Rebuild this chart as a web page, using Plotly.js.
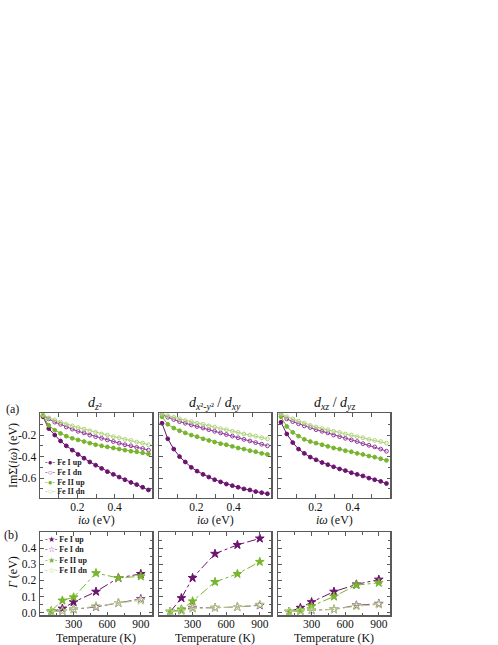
<!DOCTYPE html>
<html>
<head>
<meta charset="utf-8">
<script src="https://cdn.plot.ly/plotly-3.0.1.min.js"></script>
<style>
	body { margin: 0; background: #fff; }
	#chart { width: 498px; height: 645px; }
</style>
</head>
<body>
<div id="chart"></div>
<script>
// Matsubara frequencies (eV)
var iw = [0.016, 0.047, 0.079, 0.110, 0.141, 0.173, 0.204, 0.236, 0.267, 0.298, 0.330, 0.361, 0.393, 0.424, 0.455, 0.487, 0.518, 0.550, 0.581];

// Im Sigma(iw), d_z2
var dz2FeIup = [-0.03, -0.14, -0.20, -0.255, -0.30, -0.34, -0.38, -0.415, -0.45, -0.48, -0.51, -0.54, -0.565, -0.59, -0.615, -0.64, -0.66, -0.685, -0.71];
var dz2FeIdn = [-0.02, -0.05, -0.08, -0.10, -0.125, -0.145, -0.165, -0.18, -0.20, -0.215, -0.23, -0.245, -0.26, -0.275, -0.29, -0.30, -0.315, -0.325, -0.34];
var dz2FeIIup = [-0.02, -0.11, -0.155, -0.185, -0.21, -0.23, -0.245, -0.26, -0.275, -0.29, -0.30, -0.31, -0.32, -0.33, -0.34, -0.35, -0.355, -0.365, -0.375];
var dz2FeIIdn = [-0.01, -0.04, -0.06, -0.08, -0.10, -0.115, -0.13, -0.145, -0.16, -0.175, -0.19, -0.20, -0.215, -0.225, -0.24, -0.25, -0.265, -0.275, -0.29];

// Im Sigma(iw), d_x2-y2 / d_xy
var dxyFeIup = [-0.09, -0.235, -0.33, -0.40, -0.45, -0.50, -0.535, -0.565, -0.59, -0.615, -0.635, -0.655, -0.67, -0.685, -0.70, -0.71, -0.725, -0.735, -0.745];
var dxyFeIdn = [-0.01, -0.035, -0.055, -0.075, -0.09, -0.105, -0.12, -0.135, -0.15, -0.165, -0.18, -0.195, -0.21, -0.225, -0.24, -0.255, -0.27, -0.285, -0.30];
var dxyFeIIup = [-0.03, -0.10, -0.135, -0.16, -0.18, -0.20, -0.215, -0.235, -0.25, -0.265, -0.28, -0.29, -0.305, -0.32, -0.33, -0.345, -0.355, -0.37, -0.38];
var dxyFeIIdn = [-0.005, -0.02, -0.035, -0.05, -0.065, -0.075, -0.09, -0.10, -0.115, -0.125, -0.14, -0.15, -0.165, -0.175, -0.19, -0.20, -0.21, -0.225, -0.235];

// Im Sigma(iw), d_xz / d_yz
var dxzFeIup = [-0.08, -0.19, -0.27, -0.33, -0.37, -0.405, -0.43, -0.455, -0.475, -0.495, -0.515, -0.53, -0.55, -0.565, -0.58, -0.60, -0.615, -0.63, -0.65];
var dxzFeIdn = [-0.01, -0.05, -0.075, -0.095, -0.115, -0.13, -0.15, -0.165, -0.18, -0.20, -0.215, -0.23, -0.245, -0.26, -0.28, -0.295, -0.31, -0.33, -0.35];
var dxzFeIIup = [-0.03, -0.12, -0.175, -0.21, -0.24, -0.26, -0.275, -0.29, -0.305, -0.32, -0.33, -0.345, -0.355, -0.37, -0.38, -0.395, -0.405, -0.42, -0.435];
var dxzFeIIdn = [-0.005, -0.03, -0.05, -0.07, -0.09, -0.11, -0.125, -0.14, -0.15, -0.165, -0.175, -0.19, -0.20, -0.215, -0.225, -0.24, -0.25, -0.26, -0.275];

// scattering rate Gamma (eV) vs temperature (K)
var temps = [100, 200, 300, 500, 700, 900];
var gDz2FeIup = [0.005, 0.025, 0.065, 0.13, 0.215, 0.24];
var gDz2FeIdn = [0.005, 0.01, 0.02, 0.035, 0.06, 0.085];
var gDz2FeIIup = [0.01, 0.075, 0.095, 0.245, 0.215, 0.225];
var gDz2FeIIdn = [0.005, 0.01, 0.02, 0.04, 0.06, 0.075];

var gDxyFeIup = [0.005, 0.09, 0.215, 0.365, 0.42, 0.46];
var gDxyFeIdn = [0.005, 0.015, 0.03, 0.03, 0.035, 0.045];
var gDxyFeIIup = [0.005, 0.02, 0.07, 0.19, 0.24, 0.315];
var gDxyFeIIdn = [0.005, 0.01, 0.025, 0.03, 0.035, 0.05];

var gDxzFeIup = [0.005, 0.03, 0.065, 0.13, 0.175, 0.205];
var gDxzFeIdn = [0.005, 0.01, 0.015, 0.02, 0.045, 0.055];
var gDxzFeIIup = [0.005, 0.015, 0.04, 0.10, 0.17, 0.185];
var gDxzFeIIdn = [0.005, 0.01, 0.015, 0.02, 0.04, 0.05];

var seriesNames = ['Fe I up', 'Fe I dn', 'Fe II up', 'Fe II dn'];

var colors = ['#6b136e', '#93399c', '#78b42c', '#afd57a'];
var filled = [true, false, true, false];
var W = 498, H = 645;

function sigmaTrace(y, k, xa, ya) {
	return {
		x: iw, y: y, xaxis: xa, yaxis: ya,
		type: 'scatter', mode: 'lines+markers', name: seriesNames[k],
		showlegend: false,
		line: {color: colors[k], width: 1},
		marker: {
			symbol: filled[k] ? 'circle' : 'circle-open',
			size: 3.8, color: colors[k], line: {color: colors[k], width: 1}
		}
	};
}

function gammaTrace(y, k, xa, ya) {
	return {
		x: temps, y: y, xaxis: xa, yaxis: ya,
		type: 'scatter', mode: 'lines+markers', name: seriesNames[k],
		showlegend: false,
		line: {color: colors[k], width: 1, dash: 'dashdot'},
		marker: {
			symbol: filled[k] ? 'star' : 'star-open',
			size: 6.5, color: colors[k], line: {color: colors[k], width: 1}
		}
	};
}

var data = [];
[[dz2FeIup, dz2FeIdn, dz2FeIIup, dz2FeIIdn],
 [dxyFeIup, dxyFeIdn, dxyFeIIup, dxyFeIIdn],
 [dxzFeIup, dxzFeIdn, dxzFeIIup, dxzFeIIdn]].forEach(function(set, p) {
	var s = p === 0 ? '' : String(p + 1);
	set.forEach(function(y, k) {
		data.push(sigmaTrace(y, k, 'x' + s, 'y' + s));
	});
});
[[gDz2FeIup, gDz2FeIdn, gDz2FeIIup, gDz2FeIIdn],
 [gDxyFeIup, gDxyFeIdn, gDxyFeIIup, gDxyFeIIdn],
 [gDxzFeIup, gDxzFeIdn, gDxzFeIIup, gDxzFeIIdn]].forEach(function(set, p) {
	var s = String(p + 4);
	set.forEach(function(y, k) {
		data.push(gammaTrace(y, k, 'x' + s, 'y' + s));
	});
});

// panel placement in pixels
var colsPx = [[40, 152], [159, 271], [278, 390]];
var topPx = [413, 497.5];
var botPx = [532, 615];

function px(v) { return v / W; }
function py(v) { return 1 - v / H; }

function baseAxis() {
	return {
		showline: true, linecolor: '#5a5a5a', linewidth: 1.5,
		mirror: 'allticks', ticks: 'inside', ticklen: 3.5, tickwidth: 1, tickcolor: '#5a5a5a',
		showgrid: false, zeroline: false, fixedrange: true,
		tickfont: {family: 'Liberation Serif', size: 11.5, color: '#111'}
	};
}

var layout = {
	width: W, height: H,
	margin: {l: 0, r: 0, t: 0, b: 0},
	paper_bgcolor: '#fff', plot_bgcolor: '#fff',
	showlegend: false,
	font: {family: 'Liberation Serif', size: 12, color: '#111'},
	annotations: []
};

colsPx.forEach(function(c, p) {
	var s = p === 0 ? '' : String(p + 1);
	var s2 = String(p + 4);
	var xa = baseAxis();
	xa.domain = [px(c[0]), px(c[1])];
	xa.anchor = 'y' + s;
	xa.range = [0, 0.6];
	xa.tickvals = [0.2, 0.4];
	xa.ticktext = ['0.2', '0.4'];
	xa.ticklabelstandoff = -2;
	xa.minor = {tickvals: [0.1, 0.3, 0.5], ticklen: 3.5, tickcolor: '#5a5a5a', ticks: 'inside'};
	layout['xaxis' + s] = xa;

	var ya = baseAxis();
	ya.domain = [py(topPx[1]), py(topPx[0])];
	ya.anchor = 'x' + s;
	ya.range = [-0.78, 0.005];
	ya.tickvals = [-0.2, -0.4, -0.6];
	ya.ticktext = ['-0.2', '-0.4', '-0.6'];
	ya.minor = {tickvals: [-0.1, -0.3, -0.5, -0.7], ticklen: 2.5, tickcolor: '#5a5a5a', ticks: 'inside'};
	ya.showticklabels = p === 0;
	layout['yaxis' + s] = ya;

	var xb = baseAxis();
	xb.domain = [px(c[0]), px(c[1])];
	xb.anchor = 'y' + s2;
	xb.range = [0, 1000];
	xb.tickvals = [300, 600, 900];
	xb.ticklabelstandoff = -2;
	xb.minor = {tickvals: [150, 450, 750], ticklen: 2.5, tickcolor: '#5a5a5a', ticks: 'inside'};
	layout['xaxis' + s2] = xb;

	var yb = baseAxis();
	yb.domain = [py(botPx[1]), py(botPx[0])];
	yb.anchor = 'x' + s2;
	yb.range = [-0.015, 0.5];
	yb.tickvals = [0, 0.1, 0.2, 0.3, 0.4];
	yb.ticktext = ['0.0', '0.1', '0.2', '0.3', '0.4'];
	yb.minor = {tickvals: [0.05, 0.15, 0.25, 0.35, 0.45], ticklen: 2.5, tickcolor: '#5a5a5a', ticks: 'inside'};
	yb.showticklabels = p === 0;
	layout['yaxis' + s2] = yb;

	var cx = px((c[0] + c[1]) / 2);
	layout.annotations.push({
		xref: 'paper', yref: 'paper', x: cx, y: py(520), text: '<i>iω</i> (eV)',
		showarrow: false, xanchor: 'center', yanchor: 'middle', font: {size: 12}
	});
	layout.annotations.push({
		xref: 'paper', yref: 'paper', x: cx, y: py(638), text: 'Temperature (K)',
		showarrow: false, xanchor: 'center', yanchor: 'middle', font: {size: 12}
	});
});

var panelTitles = [
	'<i>d</i><sub><i>z</i>²</sub>',
	'<i>d</i><sub><i>x</i>²<i>-y</i>²</sub> / <i>d</i><sub><i>xy</i></sub>',
	'<i>d</i><sub><i>xz</i></sub> / <i>d</i><sub><i>yz</i></sub>'
];
var titleX = [95, 215, 334];
panelTitles.forEach(function(t, i) {
	layout.annotations.push({
		xref: 'paper', yref: 'paper', x: px(titleX[i]), y: py(403), text: t,
		showarrow: false, xanchor: 'center', yanchor: 'middle', font: {size: 14}
	});
});

layout.annotations.push({xref: 'paper', yref: 'paper', x: px(12), y: py(409), text: '(a)',
	showarrow: false, xanchor: 'center', yanchor: 'middle', font: {size: 12}});
layout.annotations.push({xref: 'paper', yref: 'paper', x: px(11), y: py(535), text: '(b)',
	showarrow: false, xanchor: 'center', yanchor: 'middle', font: {size: 12}});
layout.annotations.push({xref: 'paper', yref: 'paper', x: px(13), y: py(456),
	text: 'ImΣ(<i>iω</i>) (eV)', textangle: -90,
	showarrow: false, xanchor: 'center', yanchor: 'middle', font: {size: 12}});
layout.annotations.push({xref: 'paper', yref: 'paper', x: px(13), y: py(573),
	text: '<i>Γ</i> (eV)', textangle: -90,
	showarrow: false, xanchor: 'center', yanchor: 'middle', font: {size: 12}});

// legends
var circleGlyph = ['●', '○', '●', '○'];
var starGlyph = ['★', '☆', '★', '☆'];
var topRows = [462.5, 472.3, 482, 491.7];
var botRows = [539.5, 549.5, 560, 570.5];
seriesNames.forEach(function(name, k) {
	layout.annotations.push({
		xref: 'paper', yref: 'paper', x: px(43), y: py(topRows[k]),
		text: '<span style="color:' + colors[k] + '">-' + circleGlyph[k] + '-</span> <b>' + name + '</b>',
		showarrow: false, xanchor: 'left', yanchor: 'middle',
		font: {size: 8, family: 'Liberation Serif', color: '#222'}
	});
	layout.annotations.push({
		xref: 'paper', yref: 'paper', x: px(43), y: py(botRows[k]),
		text: '<span style="color:' + colors[k] + '">-' + starGlyph[k] + '-</span> <b>' + name + '</b>',
		showarrow: false, xanchor: 'left', yanchor: 'middle',
		font: {size: 8, family: 'Liberation Serif', color: '#222'}
	});
});

Plotly.newPlot('chart', data, layout, {staticPlot: true, displayModeBar: false});
</script>
</body>
</html>
